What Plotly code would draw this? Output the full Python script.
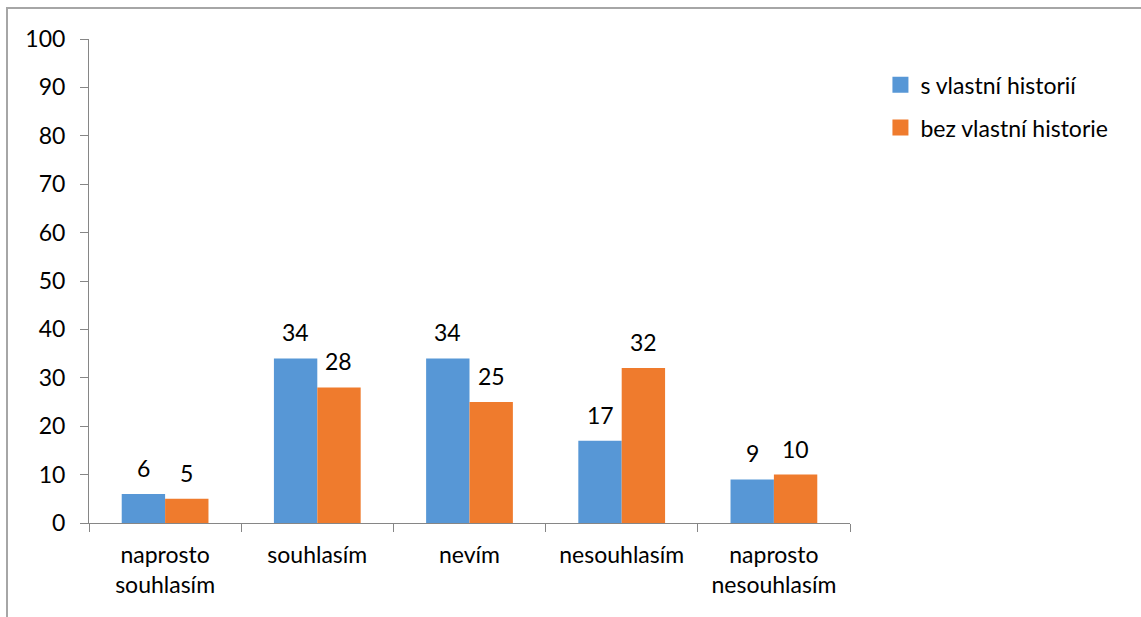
import plotly.graph_objects as go

categories = ["naprosto<br>souhlasím", "souhlasím", "nevím", "nesouhlasím", "naprosto<br>nesouhlasím"]
series_names = ["s vlastní historií", "bez vlastní historie"]
s_vlastni = [6, 34, 34, 17, 9]
bez_vlastni = [5, 28, 25, 32, 10]
y_ticks = [0, 10, 20, 30, 40, 50, 60, 70, 80, 90, 100]

colors = ["#5797d6", "#ef7b2d"]
FONT = "Lato"
FS = 23
BARGAP = 0.43

fig = go.Figure()
for name, vals, col in zip(series_names, [s_vlastni, bez_vlastni], colors):
    fig.add_trace(go.Bar(
        x=categories, y=vals, name=name, showlegend=False,
        marker=dict(color=col, line=dict(width=0)),
    ))
    # legend entry with a larger square swatch
    fig.add_trace(go.Scatter(
        x=[None], y=[None], mode="markers", name=name, legendgroup=name,
        marker=dict(symbol="square", size=16, color=col),
    ))

# value labels above each bar
bw = (1 - BARGAP) / 2
for k, vals in enumerate([s_vlastni, bez_vlastni]):
    off = -bw / 2 if k == 0 else bw / 2
    for i, v in enumerate(vals):
        fig.add_annotation(
            x=i + off, y=v, xref="x", yref="y", text=str(v), showarrow=False,
            yanchor="bottom", yshift=10, font=dict(family=FONT, size=FS, color="#000000"),
        )

# chart frame
fig.add_shape(type="rect", xref="paper", yref="paper",
              x0=(7 - 89) / 761, x1=1.6, y0=-0.6, y1=(523 - 8) / 484,
              line=dict(color="#a6a6a6", width=2), layer="below")

fig.update_layout(
    width=1141, height=617,
    margin=dict(l=89, r=291, t=39, b=94),
    paper_bgcolor="white", plot_bgcolor="white",
    barmode="group", bargap=BARGAP, bargroupgap=0,
    font=dict(family=FONT, size=FS, color="#000000"),
    legend=dict(x=1.04, y=0.95, xanchor="left", yanchor="top",
                font=dict(family=FONT, size=FS), tracegroupgap=10,
                itemsizing="trace", bgcolor="rgba(0,0,0,0)"),
    xaxis=dict(
        type="category", showline=True, linecolor="#868686", linewidth=1,
        ticks="outside", tickson="boundaries", ticklen=8, tickcolor="#868686",
        showgrid=False, tickfont=dict(family=FONT, size=FS), ticklabelstandoff=11,
    ),
    yaxis=dict(
        range=[0, 100], tickvals=y_ticks, showline=True, linecolor="#868686",
        linewidth=1, ticks="outside", ticklen=8, tickcolor="#868686",
        showgrid=False, zeroline=False, tickfont=dict(family=FONT, size=FS),
        ticklabelstandoff=10,
    ),
)

fig.write_html("out.html")
